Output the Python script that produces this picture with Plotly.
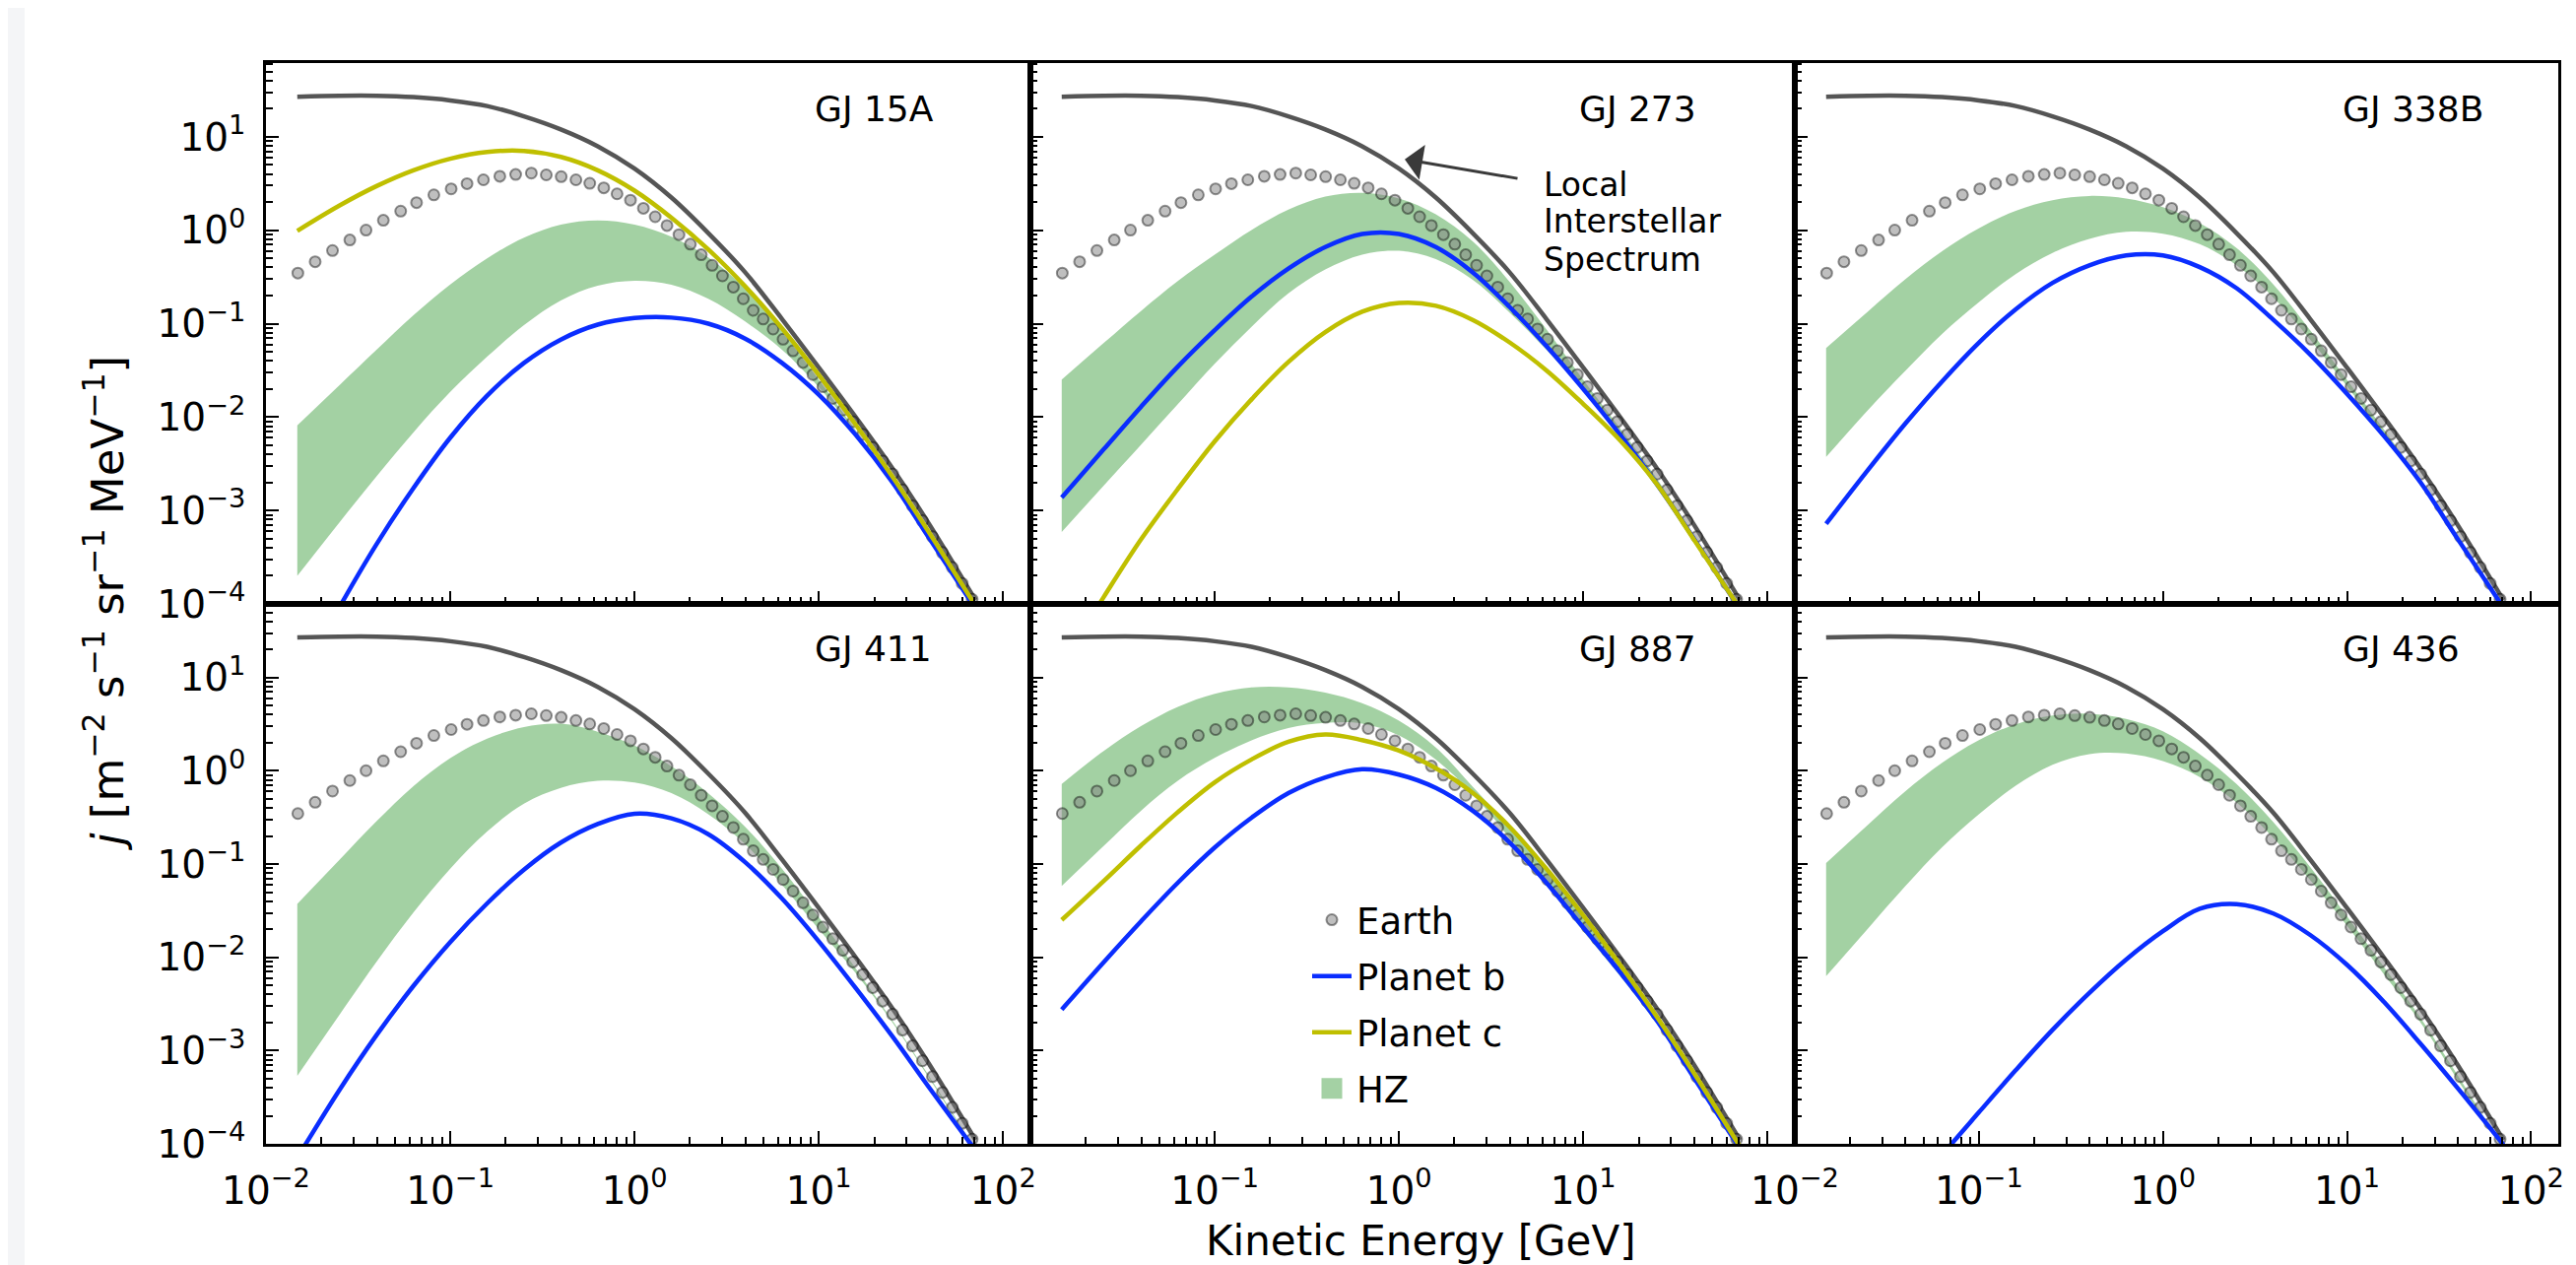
import numpy as np
import plotly.graph_objects as go

# ---------------- data (log10 readings from the figure) ----------------
PANEL_NAMES = ["GJ 15A", "GJ 273", "GJ 338B", "GJ 411", "GJ 887", "GJ 436"]

# kinetic energy grid, log10(E / GeV)
LOG_E_GRID = [-1.83, -1.6, -1.4, -1.2, -1.0, -0.8, -0.6, -0.4, -0.2, 0.0,
              0.2, 0.4, 0.6, 0.8, 1.0, 1.2, 1.4, 1.6, 1.85]

# local interstellar spectrum, log10 j
LIS = [1.43, 1.44, 1.44, 1.425, 1.39, 1.33, 1.22, 1.08, 0.90, 0.66,
       0.35, -0.03, -0.45, -0.95, -1.47, -2.0, -2.55, -3.15, -3.96]

# Earth spectrum (points)
EARTH_LOG_E = [-1.827, -1.733, -1.639, -1.545, -1.457, -1.363, -1.269, -1.183, -1.089, -0.995,
               -0.909, -0.820, -0.731, -0.645, -0.560, -0.479, -0.398, -0.318, -0.243, -0.167,
               -0.095, -0.022, 0.048, 0.112, 0.176, 0.241, 0.303, 0.362, 0.421, 0.477,
               0.536, 0.590, 0.644, 0.698, 0.752, 0.806, 0.860, 0.914, 0.968, 1.022,
               1.076, 1.130, 1.184, 1.238, 1.292, 1.346, 1.400, 1.454, 1.508, 1.562,
               1.616, 1.670, 1.724, 1.778, 1.832, 1.886]
EARTH_LOG_J = [-0.458, -0.337, -0.217, -0.104, 0.002, 0.107, 0.205, 0.296, 0.379, 0.443,
               0.499, 0.540, 0.578, 0.597, 0.612, 0.593, 0.574, 0.540, 0.503, 0.454,
               0.390, 0.322, 0.235, 0.145, 0.051, -0.047, -0.149, -0.262, -0.375, -0.488,
               -0.608, -0.733, -0.857, -0.95, -1.057, -1.166, -1.29, -1.415, -1.545, -1.675,
               -1.80, -1.925, -2.05, -2.185, -2.325, -2.47, -2.61, -2.78, -2.95, -3.11,
               -3.28, -3.45, -3.61, -3.78, -3.95, -4.12]

# GJ 15A
B_15A = [-4.86, -4.03, -3.36, -2.76, -2.22, -1.77, -1.42, -1.17, -1.01, -0.94,
         -0.935, -1.0, -1.16, -1.42, -1.76, -2.19, -2.70, -3.30, -4.05]
C_15A = [-0.006, 0.266, 0.473, 0.642, 0.766, 0.838, 0.849, 0.785, 0.642, 0.424,
         0.134, -0.205, -0.60, -1.05, -1.55, -2.08, -2.64, -3.24, -4.02]
HZ_HI_15A = [-2.088, -1.655, -1.279, -0.91, -0.58, -0.30, -0.08, 0.06, 0.105, 0.06,
             -0.07, -0.29, -0.62, -1.08, -1.60, -2.14, -2.70, -3.30, -4.06]
HZ_LO_15A = [-3.70, -3.124, -2.635, -2.164, -1.731, -1.354, -1.015, -0.751, -0.593, -0.540,
             -0.582, -0.733, -0.977, -1.279, -1.68, -2.16, -2.69, -3.30, -4.07]

# GJ 273
B_273 = [-2.86, -2.34, -1.89, -1.46, -1.07, -0.71, -0.41, -0.18, -0.04, -0.04,
         -0.18, -0.45, -0.82, -1.24, -1.70, -2.19, -2.72, -3.30, -4.06]
C_273 = [-4.65, -3.92, -3.31, -2.77, -2.26, -1.81, -1.41, -1.09, -0.872, -0.778,
         -0.808, -0.959, -1.20, -1.50, -1.86, -2.25, -2.72, -3.31, -4.05]
HZ_HI_273 = [-1.599, -1.203, -0.864, -0.544, -0.262, 0.002, 0.22, 0.36, 0.40, 0.34,
             0.17, -0.12, -0.55, -1.06, -1.60, -2.12, -2.66, -3.27, -4.06]
HZ_LO_273 = [-3.23, -2.729, -2.296, -1.862, -1.429, -1.034, -0.676, -0.42, -0.26, -0.22,
             -0.31, -0.53, -0.88, -1.28, -1.72, -2.18, -2.69, -3.30, -4.07]

# GJ 338B
B_338B = [-3.143, -2.559, -2.07, -1.618, -1.203, -0.846, -0.563, -0.375, -0.269, -0.269,
          -0.394, -0.62, -0.959, -1.33, -1.75, -2.20, -2.70, -3.30, -4.04]
HZ_HI_338B = [-1.26, -0.864, -0.525, -0.224, 0.021, 0.209, 0.322, 0.367, 0.341, 0.247,
              0.077, -0.19, -0.58, -1.07, -1.60, -2.13, -2.68, -3.28, -4.06]
HZ_LO_338B = [-2.427, -1.919, -1.505, -1.109, -0.77, -0.469, -0.243, -0.092, -0.017, -0.036,
              -0.149, -0.375, -0.72, -1.17, -1.67, -2.19, -2.72, -3.31, -4.08]

# GJ 411
B_411 = [-4.15, -3.418, -2.834, -2.307, -1.836, -1.422, -1.06, -0.77, -0.57, -0.46,
         -0.51, -0.68, -0.98, -1.37, -1.83, -2.33, -2.85, -3.40, -4.07]
HZ_HI_411 = [-1.426, -0.951, -0.54, -0.164, 0.137, 0.345, 0.47, 0.505, 0.42, 0.27,
             0.05, -0.24, -0.60, -1.05, -1.57, -2.12, -2.68, -3.28, -4.06]
HZ_LO_411 = [-3.27, -2.612, -2.047, -1.52, -1.049, -0.65, -0.352, -0.183, -0.107, -0.126,
             -0.239, -0.465, -0.785, -1.22, -1.70, -2.17, -2.70, -3.30, -4.08]

# GJ 887
B_887 = [-2.56, -2.047, -1.614, -1.2, -0.823, -0.503, -0.239, -0.07, 0.017, -0.04,
         -0.183, -0.428, -0.767, -1.20, -1.68, -2.16, -2.68, -3.29, -4.05]
C_887 = [-1.599, -1.177, -0.801, -0.443, -0.123, 0.122, 0.311, 0.39, 0.33, 0.217,
         0.028, -0.236, -0.60, -1.05, -1.55, -2.08, -2.64, -3.24, -4.03]
HZ_HI_887 = [-0.141, 0.217, 0.48, 0.687, 0.827, 0.895, 0.895, 0.838, 0.725, 0.537,
             0.25, -0.17, -0.60, -1.05, -1.58, -2.10, -2.64, -3.25, -4.04]
HZ_LO_887 = [-1.234, -0.801, -0.428, -0.107, 0.138, 0.326, 0.458, 0.514, 0.507, 0.38,
             0.12, -0.25, -0.72, -1.22, -1.72, -2.20, -2.72, -3.31, -4.07]

# GJ 436
B_436 = [-5.7, -5.1, -4.6, -4.12, -3.663, -3.211, -2.778, -2.382, -2.024, -1.72,
         -1.48, -1.43, -1.53, -1.76, -2.08, -2.476, -2.928, -3.399, -4.009]
HZ_HI_436 = [-0.989, -0.574, -0.22, 0.085, 0.33, 0.499, 0.593, 0.612, 0.556, 0.424,
             0.18, -0.14, -0.55, -1.03, -1.56, -2.10, -2.65, -3.26, -4.05]
HZ_LO_436 = [-2.202, -1.685, -1.237, -0.819, -0.465, -0.16, 0.066, 0.179, 0.186, 0.104,
             -0.066, -0.34, -0.72, -1.17, -1.66, -2.18, -2.70, -3.31, -4.07]

X_TICK_VALS = [0.01, 0.1, 1, 10, 100]
X_TICK_TEXT = ["10<sup>−2</sup>", "10<sup>−1</sup>", "10<sup>0</sup>", "10<sup>1</sup>", "10<sup>2</sup>"]
Y_TICK_VALS = [1e-4, 1e-3, 1e-2, 1e-1, 1, 10]
Y_TICK_TEXT = ["10<sup>−4</sup>", "10<sup>−3</sup>", "10<sup>−2</sup>", "10<sup>−1</sup>",
               "10<sup>0</sup>", "10<sup>1</sup>"]

# table built from the named lists
PANELS = [
    (PANEL_NAMES[0], B_15A, C_15A, HZ_LO_15A, HZ_HI_15A),
    (PANEL_NAMES[1], B_273, C_273, HZ_LO_273, HZ_HI_273),
    (PANEL_NAMES[2], B_338B, None, HZ_LO_338B, HZ_HI_338B),
    (PANEL_NAMES[3], B_411, None, HZ_LO_411, HZ_HI_411),
    (PANEL_NAMES[4], B_887, C_887, HZ_LO_887, HZ_HI_887),
    (PANEL_NAMES[5], B_436, None, HZ_LO_436, HZ_HI_436),
]

# ---------------- styling / layout ----------------
W, H = 2615, 1284
OFF = 8  # page body margin of the rendered html
COL_PX = [270 - OFF, 1046 - OFF, 1822 - OFF, 2597 - OFF]
ROW_PX = [64 - OFF, 613 - OFF, 1161 - OFF]
FONT = "DejaVu Sans"
GREEN_FILL = "rgba(0,128,0,0.36)"
LIS_COLOR = "#555555"
BLUE = "#0a2dff"
YELLOW = "#bfbf00"
LW = 4.5

E = 10 ** np.array(LOG_E_GRID)
E_EARTH = 10 ** np.array(EARTH_LOG_E)
J_EARTH = 10 ** np.array(EARTH_LOG_J)
J_LIS = 10 ** np.array(LIS)

fig = go.Figure()

for p, (name, b, c, lo, hi) in enumerate(PANELS):
    sfx = "" if p == 0 else str(p + 1)
    xa, ya = "x" + sfx, "y" + sfx
    leg = (name == "GJ 887")
    # HZ band
    fig.add_trace(go.Scatter(x=E, y=10 ** np.array(lo), xaxis=xa, yaxis=ya, mode="lines",
                             line=dict(width=0, shape="spline", color="rgba(0,0,0,0)"),
                             showlegend=False, hoverinfo="skip"))
    fig.add_trace(go.Scatter(x=E, y=10 ** np.array(hi), xaxis=xa, yaxis=ya, mode="lines",
                             line=dict(width=0, shape="spline", color="rgba(0,0,0,0)"),
                             fill="tonexty", fillcolor=GREEN_FILL,
                             showlegend=False, hoverinfo="skip"))
    # LIS
    fig.add_trace(go.Scatter(x=E, y=J_LIS, xaxis=xa, yaxis=ya, mode="lines",
                             line=dict(width=LW, shape="spline", color=LIS_COLOR),
                             showlegend=False))
    # Earth
    fig.add_trace(go.Scatter(x=E_EARTH, y=J_EARTH, xaxis=xa, yaxis=ya, mode="markers",
                             marker=dict(size=11, color="rgba(128,128,128,0.5)",
                                         line=dict(color="rgba(0,0,0,0.42)", width=2)),
                             name="Earth", showlegend=leg,
                             legendgroup="g1" if leg else None, legendrank=1))
    # Planet b
    fig.add_trace(go.Scatter(x=E, y=10 ** np.array(b), xaxis=xa, yaxis=ya, mode="lines",
                             line=dict(width=LW, shape="spline", color=BLUE),
                             name="Planet b", showlegend=leg,
                             legendgroup="g2" if leg else None, legendrank=2))
    # Planet c
    if c is not None:
        fig.add_trace(go.Scatter(x=E, y=10 ** np.array(c), xaxis=xa, yaxis=ya, mode="lines",
                                 line=dict(width=LW, shape="spline", color=YELLOW),
                                 name="Planet c", showlegend=leg,
                                 legendgroup="g3" if leg else None, legendrank=3))

# legend proxy for the HZ patch
fig.add_trace(go.Scatter(x=[None], y=[None], xaxis="x5", yaxis="y5", mode="markers",
                         marker=dict(symbol="square", size=16, color="#a4d1a4",
                                     line=dict(color="#a4d1a4", width=5)),
                         name="HZ", legendgroup="g4", legendrank=4, showlegend=True))

minor_vals = [k * 10.0 ** d for d in range(-5, 3) for k in range(2, 10)]

layout_axes = {}
annotations = []
for p in range(6):
    r, cc = divmod(p, 3)
    sfx = "" if p == 0 else str(p + 1)
    xdom = [COL_PX[cc] / W, COL_PX[cc + 1] / W]
    ydom = [1 - ROW_PX[r + 1] / H, 1 - ROW_PX[r] / H]
    xt = list(X_TICK_TEXT)
    if cc == 1:
        xt[0] = " "
        xt[-1] = " "
    layout_axes["xaxis" + sfx] = dict(
        type="log", range=[-2.0, 2.148], domain=xdom, anchor="y" + sfx,
        showline=True, linecolor="black", linewidth=2.5, mirror=True,
        ticks="inside", ticklen=13, tickwidth=2, tickcolor="black",
        tickmode="array", tickvals=X_TICK_VALS, ticktext=xt,
        showticklabels=(r == 1), showgrid=False, zeroline=False, automargin=False,
        tickfont=dict(size=39, family=FONT, color="black"), ticklabelstandoff=11,
        minor=dict(ticks="inside", ticklen=7, tickwidth=1.5, tickcolor="black",
                   tickmode="array", tickvals=minor_vals, showgrid=False),
    )
    layout_axes["yaxis" + sfx] = dict(
        type="log", range=[-4.0, 1.79], domain=ydom, anchor="x" + sfx,
        showline=True, linecolor="black", linewidth=2.5, mirror=True,
        ticks="inside", ticklen=13, tickwidth=2, tickcolor="black",
        tickmode="array", tickvals=Y_TICK_VALS, ticktext=Y_TICK_TEXT,
        showticklabels=(cc == 0), showgrid=False, zeroline=False, automargin=False,
        tickfont=dict(size=39, family=FONT, color="black"), ticklabelstandoff=10,
        minor=dict(ticks="inside", ticklen=7, tickwidth=1.5, tickcolor="black",
                   tickmode="array", tickvals=minor_vals, showgrid=False),
    )
    annotations.append(dict(text=PANEL_NAMES[p], xref="x" + sfx + " domain", yref="y" + sfx + " domain",
                            x=0.715, y=1 - 46 / 549, xanchor="left", yanchor="middle",
                            showarrow=False, font=dict(size=36, family=FONT, color="black")))

# Local Interstellar Spectrum annotation (panel GJ 273)
for txt, ypx in [("Local", 187), ("Interstellar", 225), ("Spectrum", 263)]:
    annotations.append(dict(text=txt, xref="x2 domain", yref="y2 domain",
                            x=(1565 - 1046) / 776, y=1 - (ypx - 64) / 549,
                            xanchor="left", yanchor="middle", showarrow=False,
                            font=dict(size=33, family=FONT, color="black")))
annotations.append(dict(text=" ", xref="x2 domain", yref="y2 domain",
                        x=(1426 - 1046) / 776, y=1 - (161.7 - 64) / 549,
                        ax=118, ay=20, showarrow=True, arrowhead=1, arrowsize=2.0,
                        arrowwidth=3, arrowcolor="#3a3a3a", standoff=0))

# axis titles
annotations.append(dict(text="Kinetic Energy [GeV]", xref="paper", yref="paper",
                        x=(1442 - OFF) / W, y=1 - (1259 - OFF) / H, xanchor="center", yanchor="middle",
                        showarrow=False, font=dict(size=42, family=FONT, color="black")))
annotations.append(dict(text="<i>j</i> [m<sup>−2</sup> s<sup>−1</sup> sr<sup>−1</sup> MeV<sup>−1</sup>]",
                        xref="paper", yref="paper", x=(106 - OFF) / W, y=1 - (613 - OFF) / H,
                        xanchor="center", yanchor="middle", textangle=-90, showarrow=False,
                        font=dict(size=45, family=FONT, color="black")))

fig.update_layout(
    width=W, height=H,
    margin=dict(l=0, r=0, t=0, b=0, pad=0, autoexpand=False),
    paper_bgcolor="white", plot_bgcolor="white",
    font=dict(family=FONT, color="black"),
    annotations=annotations,
    shapes=[dict(type="rect", xref="paper", yref="paper", x0=0, x1=(25 - OFF) / W, y0=0, y1=1,
                 fillcolor="#f4f5f7", line=dict(width=0), layer="below")],
    legend=dict(x=(1327 - OFF) / W, y=1 - (903 - OFF) / H, xanchor="left", yanchor="top",
                bgcolor="rgba(0,0,0,0)", borderwidth=0, itemwidth=40,
                traceorder="grouped", tracegroupgap=6,
                font=dict(size=37, family=FONT, color="black")),
    **layout_axes,
)

fig.write_html("out.html")
